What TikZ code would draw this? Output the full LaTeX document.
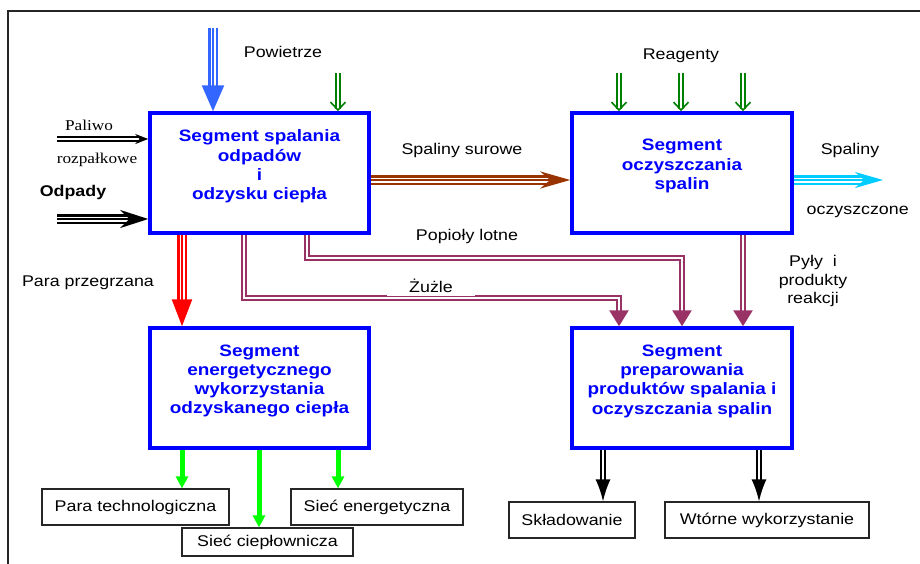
\documentclass[tikz,border=0pt]{standalone}
\usepackage{tikz}
\usepackage{fontspec}
\setmainfont{Liberation Sans}[FakeStretch=1.15]
\newfontfamily\serfont{Liberation Serif}[FakeStretch=1.15]
\usetikzlibrary{arrows.meta}
\definecolor{segblue}{RGB}{0,0,255}
\definecolor{airblue}{RGB}{51,102,255}
\definecolor{reagreen}{RGB}{0,128,0}
\definecolor{fluebrown}{RGB}{153,51,0}
\definecolor{cleancyan}{RGB}{0,204,255}
\definecolor{ashpurple}{RGB}{153,51,102}
\definecolor{heatgreen}{RGB}{0,255,0}
\newcommand\segfont{\fontsize{16.5}{19.3}\selectfont\bfseries}
\newcommand\lblfont{\fontsize{15.5}{18.5}\selectfont}

\begin{document}
\begin{tikzpicture}[x=1pt, y=-1pt,
    seg/.style={draw=segblue, line width=3.5pt, minimum width=219pt, minimum height=120pt},
    segtxt/.style={font=\segfont, text=segblue, align=center},
    outbox/.style={draw=black!85, line width=1.2pt, minimum height=36pt, font=\lblfont},
    lbl/.style={font=\lblfont, inner sep=1pt, align=center},
    pipe/.style={draw=#1, double=white, line width=1.6pt, double distance=2.4pt},
    ash/.style={draw=ashpurple, double=white, line width=2.6pt, double distance=1.6pt,
                -{Triangle[length=16pt,width=19pt]}},
    tri/.style={draw=#1, double=white, line width=2.4pt, double distance=5pt,
                postaction={draw=#1, line width=1.6pt, arrows=-, shorten >=10pt}}
  ]
    \useasboundingbox (0,0) rectangle (920,563);
    % frame
    \coordinate (fr) at (8,11);
    \draw[line width=1.5pt, black!85] (fr -| 925,0) -- (fr) -- (fr |- 0,570);

    % main segments
    \node[seg] (spal) at (259.5,173) {};
    \node[segtxt] (spal-t) at ([yshift=6.5pt]spal.center) {Segment spalania\\ odpadów\\ i\\ odzysku ciepła};
    \node[seg, minimum width=220pt] (oczy) at (682,173) {};
    \node[segtxt] (oczy-t) at ([yshift=7pt]oczy.center) {Segment\\ oczyszczania\\ spalin};
    \node[seg] (ener) at (259.5,388) {};
    \node[segtxt] (ener-t) at ([yshift=7pt]ener.center) {Segment\\ energetycznego\\ wykorzystania\\ odzyskanego ciepła};
    \node[seg, minimum width=220pt] (prep) at (682,388) {};
    \node[segtxt] (prep-t) at ([yshift=7pt]prep.center) {Segment\\ preparowania\\ produktów spalania i\\ oczyszczania spalin};

    % outputs
    \node[outbox, minimum width=187pt] (para) at (135.5,507) {Para technologiczna};
    \node[outbox, minimum width=171pt, minimum height=28pt] (cieplo) at (267.5,542) {Sieć ciepłownicza};
    \node[outbox, minimum width=172pt] (energ) at (377,507) {Sieć energetyczna};
    \node[outbox, minimum width=126pt] (sklad) at (572,520) {Składowanie};
    \node[outbox, minimum width=204pt] (wtor) at (767,520) {Wtórne wykorzystanie};

    % inputs
    \coordinate (air) at (213,28);
    \draw[tri=airblue, -{Triangle[length=26pt,width=22pt]}] (air) -- (air |- spal.north);
    \node[lbl] (air-l) at (283,52) {Powietrze};
    \coordinate (add) at (338,73);
    \draw[pipe=reagreen, -{Straight Barb[length=8pt,width=15pt]}] (add) -- (add |- spal.north);
    \coordinate (fuel) at (57,139);
    \draw[pipe=black, -{Stealth[length=13pt,width=10pt]}] (fuel) -- (fuel -| spal.west);
    \node[lbl, font=\serfont\fontsize{15}{18}\selectfont] (fuel-l) at (89,125) {Paliwo};
    \node[lbl, font=\serfont\fontsize{15}{18}\selectfont] (fuel-l2) at (97,160) {rozpałkowe};
    \coordinate (waste) at (57,219);
    \draw[tri=black, -{Stealth[length=28pt,width=18pt]}] (waste) -- (waste -| spal.west);
    \node[lbl, font=\lblfont\bfseries] (waste-l) at (73,192) {Odpady};
    \foreach \x in {619,681,743} {
      \coordinate (rg) at (\x,73);
      \draw[pipe=reagreen, -{Straight Barb[length=8pt,width=15pt]}] (rg) -- (rg |- oczy.north);
    }
    \node[lbl] (rg-l) at (681,56) {Reagenty};

    % flue gas
    \draw[tri=fluebrown, -{Stealth[length=30pt,width=17pt]}] ([yshift=-7pt]spal.east) -- ([yshift=-7pt]oczy.west);
    \node[lbl] (flue-l) at (462,150) {Spaliny surowe};
    \coordinate (clean) at (883,180);
    \draw[tri=cleancyan, -{Stealth[length=28pt,width=16pt]}] ([yshift=-7pt]oczy.east) -- (clean);
    \node[lbl] (clean-l) at (850,150) {Spaliny};
    \node[lbl, fill=white, anchor=west, minimum width=128pt, minimum height=40pt] (clean-l2) at (793.5,212) {oczyszczone};

    % heat
    \draw[tri=red, -{Triangle[length=27pt,width=20pt]}] (spal.south -| 182,0) -- (ener.north -| 182,0);
    \node[lbl] (steam-l) at (88,283) {Para przegrzana};
    \draw[heatgreen, line width=5pt, -{Triangle[length=12pt,width=12pt]}] (ener.south -| 182,0) -- (para.north -| 182,0);
    \draw[heatgreen, line width=5pt, -{Triangle[length=12pt,width=12pt]}] (ener.south -| 259,0) -- (cieplo.north -| 259,0);
    \draw[heatgreen, line width=5pt, -{Triangle[length=12pt,width=12pt]}] (ener.south -| 338,0) -- (energ.north -| 338,0);

    % residues
    \draw[ash] (spal.south -| 307,0) -- (307,258) -- (682,258) -- (prep.north -| 682,0);
    \node[lbl] (ash-l) at (467,236) {Popioły lotne};
    \draw[ash] (spal.south -| 244,0) -- (244,298) -- (619,298) -- (prep.north -| 619,0);
    \node[lbl, fill=white, inner xsep=22pt, inner ysep=3pt] (slag-l) at (431,286) {Żużle};
    \draw[ash] (oczy.south -| 743,0) -- (prep.north -| 743,0);
    \node[lbl] (dust-l) at (813,281) {Pyły\ \ i\\ produkty\\ reakcji};

    % disposal
    \draw[pipe=black, -{Latex[length=22pt,width=15pt]}] (prep.south -| 603,0) -- (sklad.north -| 603,0);
    \draw[pipe=black, -{Latex[length=22pt,width=15pt]}] (prep.south -| 759,0) -- (wtor.north -| 759,0);
  \end{tikzpicture}
\end{document}
